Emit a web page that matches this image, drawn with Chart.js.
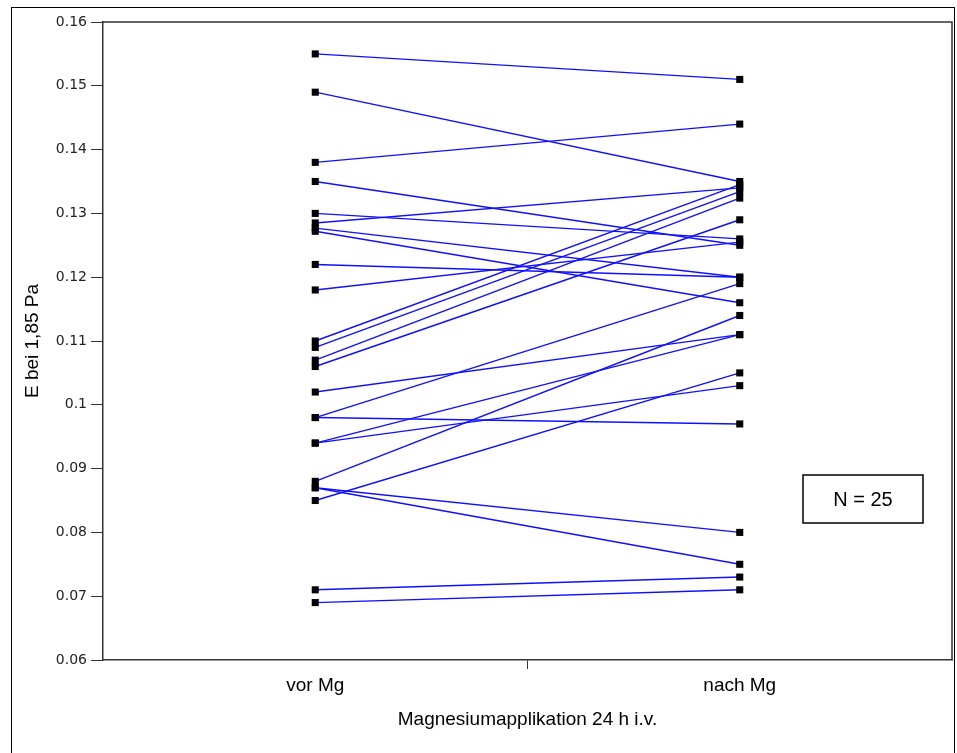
<!DOCTYPE html>
<html>
<head>
<meta charset="utf-8">
<script src="https://cdn.jsdelivr.net/npm/chart.js@4.4.1/dist/chart.umd.min.js"></script>
<style>
  body { margin: 0; background: #fff; }
  #wrap { width: 957px; height: 753px; }
</style>
</head>
<body>
<div id="wrap"><canvas id="mgChart" width="957" height="753"></canvas></div>
<script>
// Data
const groups = ["vor Mg", "nach Mg"];
const vorMg  = [0.155, 0.149, 0.138, 0.135, 0.130, 0.1285, 0.1277, 0.1272, 0.122, 0.118,
                0.110, 0.109, 0.107, 0.106, 0.102, 0.098, 0.098, 0.094, 0.094, 0.088,
                0.087, 0.087, 0.085, 0.071, 0.069];
const nachMg = [0.151, 0.135, 0.144, 0.125, 0.126, 0.134, 0.120, 0.116, 0.120, 0.1255,
                0.1345, 0.1334, 0.1324, 0.129, 0.111, 0.119, 0.097, 0.111, 0.103, 0.114,
                0.080, 0.075, 0.105, 0.073, 0.071];
const yTicks = [0.06, 0.07, 0.08, 0.09, 0.1, 0.11, 0.12, 0.13, 0.14, 0.15, 0.16];

const datasets = vorMg.map((v, i) => ({
    label: "Patient " + (i + 1),
    data: [v, nachMg[i]],
    borderColor: "#1010ff",
    borderWidth: 1.4,
    pointStyle: "rect",
    pointRadius: 5,
    pointBackgroundColor: "#000",
    pointBorderColor: "#000",
    pointBorderWidth: 0
}));

// frame around plot, outer border and the N box
const framePlugin = {
    id: "frame",
    afterDraw(chart) {
        const c = chart.ctx;
        const a = chart.chartArea;
        c.save();
        c.strokeStyle = "#000";
        c.lineWidth = 1;
        c.strokeRect(11.5, 7.5, 943, 746);
        c.strokeStyle = "#333";
        c.lineWidth = 1.5;
        c.beginPath();
        c.moveTo(a.left, a.top);
        c.lineTo(a.right, a.top);
        c.lineTo(a.right, a.bottom);
        c.stroke();
        // N box
        c.fillStyle = "#fff";
        c.fillRect(803, 475, 120, 48);
        c.strokeStyle = "#000";
        c.lineWidth = 1.5;
        c.strokeRect(803, 475, 120, 48);
        c.fillStyle = "#000";
        c.font = "20px 'Liberation Sans', Arial, sans-serif";
        c.textAlign = "center";
        c.textBaseline = "middle";
        c.fillText("N = 25", 863, 500);
        c.restore();
    }
};

new Chart(document.getElementById("mgChart"), {
    type: "line",
    data: { labels: groups, datasets: datasets },
    options: {
        responsive: false,
        animation: false,
        layout: { padding: { top: 22, right: 0, left: 0, bottom: 0 } },
        plugins: { legend: { display: false }, tooltip: { enabled: false } },
        scales: {
            x: {
                type: "category",
                offset: true,
                grid: {
                    offset: true,
                    drawOnChartArea: false,
                    tickLength: 9,
                    tickColor: (c) => c.index === 1 ? "#333" : "rgba(0,0,0,0)"
                },
                border: { color: "#333", width: 1.5 },
                ticks: {
                    color: "#000",
                    padding: 5,
                    font: { family: "'Liberation Sans', Arial, sans-serif", size: 19 }
                },
                title: {
                    display: true,
                    text: "Magnesiumapplikation 24 h i.v.",
                    color: "#000",
                    font: { family: "'Liberation Sans', Arial, sans-serif", size: 19 },
                    padding: { top: 0, bottom: 22 }
                },
                afterFit: (s) => { s.height = 93; }
            },
            y: {
                min: 0.06,
                max: 0.16,
                afterBuildTicks: (s) => { s.ticks = yTicks.map(v => ({ value: v })); },
                grid: { drawOnChartArea: false, tickLength: 12, color: "#333" },
                border: { color: "#333", width: 1.5 },
                ticks: {
                    color: "#222",
                    padding: 4,
                    font: { family: "'DejaVu Sans', sans-serif", size: 14 },
                    callback: (v) => String(Math.round(v * 100) / 100)
                },
                title: {
                    display: true,
                    text: "E bei 1,85 Pa",
                    color: "#000",
                    font: { family: "'Liberation Sans', Arial, sans-serif", size: 19 },
                    padding: { top: 21, bottom: 0 }
                },
                afterFit: (s) => { s.width = 103; }
            }
        }
    },
    plugins: [framePlugin]
});
</script>
</body>
</html>
